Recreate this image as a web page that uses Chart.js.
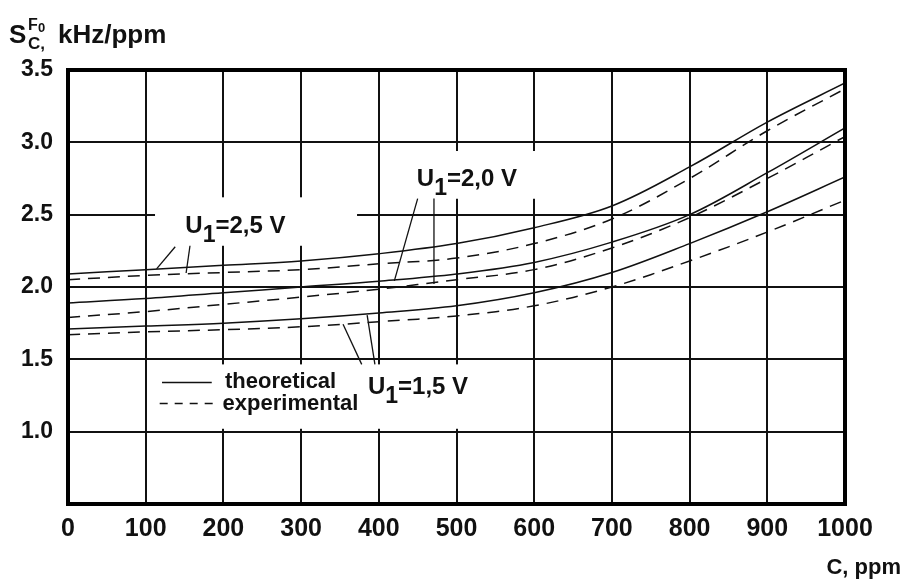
<!DOCTYPE html>
<html>
<head>
<meta charset="utf-8">
<script src="https://cdn.jsdelivr.net/npm/chart.js@4.4.1/dist/chart.umd.min.js"></script>
<style>
  body { margin: 0; background: #fff; }
  #wrap { width: 906px; height: 581px; position: relative; }
</style>
</head>
<body>
<div id="wrap"><canvas id="myChart"></canvas></div>
<script>
// concentration C, ppm
const concentration = [0, 100, 200, 300, 400, 500, 600, 700, 800, 900, 1000];

// sensitivity, kHz/ppm
const theory25 = [2.09, 2.12, 2.15, 2.18, 2.23, 2.30, 2.41, 2.56, 2.83, 3.14, 3.41];
const exper25  = [2.05, 2.08, 2.10, 2.12, 2.16, 2.20, 2.30, 2.47, 2.75, 3.08, 3.37];
const theory20 = [1.89, 1.92, 1.96, 2.00, 2.04, 2.09, 2.17, 2.31, 2.50, 2.79, 3.10];
const exper20  = [1.79, 1.83, 1.88, 1.93, 1.985, 2.05, 2.12, 2.27, 2.48, 2.75, 3.04];
const theory15 = [1.71, 1.73, 1.75, 1.78, 1.82, 1.87, 1.96, 2.10, 2.30, 2.52, 2.76];
const exper15  = [1.67, 1.69, 1.705, 1.725, 1.76, 1.80, 1.87, 2.00, 2.18, 2.38, 2.60];

const xTicks = [0, 100, 200, 300, 400, 500, 600, 700, 800, 900, 1000];
const yTicks = [1.0, 1.5, 2.0, 2.5, 3.0, 3.5];

const FONT = "'Liberation Sans', Arial, sans-serif";

function toPoints(ys) {
  return concentration.map((c, i) => ({ x: c, y: ys[i] }));
}

function lineSet(label, ys, dashed) {
  return {
    label: label,
    data: toPoints(ys),
    borderColor: "#111",
    borderWidth: 1.5,
    borderDash: dashed ? [12, 8] : [],
    pointRadius: 0,
    fill: false,
    tension: 0.35,
  };
}

// annotation layout in data units (ppm, kHz/ppm)
const whiteBoxes = [
  [112, 372, 2.62, 2.285],   // U1=2,5 V
  [427, 614, 2.94, 2.61],    // U1=2,0 V
  [108, 556, 1.465, 1.02],   // legend + U1=1,5 V
];
const leaders = [
  [138, 2.278, 114, 2.125],
  [157, 2.285, 152, 2.097],
  [450, 2.611, 420, 2.042],
  [471, 2.611, 471, 2.021],
  [378, 1.465, 354, 1.743],
  [395, 1.465, 385, 1.806],
];
const voltLabels = [
  ["2,5", 151, 2.375],
  ["2,0", 449, 2.70],
  ["1,5", 386, 1.257],
];

const annotations = {
  id: "annotations",
  beforeDatasetsDraw(chart) {
    const { ctx, scales } = chart;
    const xs = scales.x, ys = scales.y;
    ctx.save();
    ctx.fillStyle = "#fff";
    whiteBoxes.forEach(([x0, x1, y0, y1]) => {
      const px0 = xs.getPixelForValue(x0), px1 = xs.getPixelForValue(x1);
      const py0 = ys.getPixelForValue(y0), py1 = ys.getPixelForValue(y1);
      ctx.fillRect(px0, py0, px1 - px0, py1 - py0);
    });
    ctx.restore();
  },
  afterDraw(chart) {
    const { ctx, scales, chartArea } = chart;
    const xs = scales.x, ys = scales.y;
    ctx.save();

    // frame
    ctx.strokeStyle = "#000";
    ctx.lineWidth = 4;
    ctx.strokeRect(chartArea.left, chartArea.top,
      chartArea.right - chartArea.left, chartArea.bottom - chartArea.top);

    // leader lines
    ctx.lineWidth = 1.3;
    ctx.strokeStyle = "#111";
    leaders.forEach(([x0, y0, x1, y1]) => {
      ctx.beginPath();
      ctx.moveTo(xs.getPixelForValue(x0), ys.getPixelForValue(y0));
      ctx.lineTo(xs.getPixelForValue(x1), ys.getPixelForValue(y1));
      ctx.stroke();
    });

    // U1 labels
    ctx.fillStyle = "#111";
    ctx.textBaseline = "alphabetic";
    ctx.textAlign = "left";
    voltLabels.forEach(([v, cx, cy]) => {
      let px = xs.getPixelForValue(cx);
      const py = ys.getPixelForValue(cy);
      ctx.font = "bold 24px " + FONT;
      ctx.fillText("U", px, py);
      px += ctx.measureText("U").width;
      ctx.font = "bold 23px " + FONT;
      ctx.fillText("1", px, py + 9);
      px += ctx.measureText("1").width;
      ctx.font = "bold 24px " + FONT;
      ctx.fillText("=" + v + " V", px, py);
    });

    // legend
    ctx.lineWidth = 1.5;
    ctx.beginPath();
    ctx.moveTo(xs.getPixelForValue(121), ys.getPixelForValue(1.34));
    ctx.lineTo(xs.getPixelForValue(185), ys.getPixelForValue(1.34));
    ctx.stroke();
    ctx.setLineDash([8, 7]);
    ctx.beginPath();
    ctx.moveTo(xs.getPixelForValue(118), ys.getPixelForValue(1.194));
    ctx.lineTo(xs.getPixelForValue(192), ys.getPixelForValue(1.194));
    ctx.stroke();
    ctx.setLineDash([]);
    ctx.font = "bold 22px " + FONT;
    ctx.fillText("theoretical", xs.getPixelForValue(202), ys.getPixelForValue(1.299));
    ctx.fillText("experimental", xs.getPixelForValue(199), ys.getPixelForValue(1.153));

    // y axis title  S_C^F0, kHz/ppm
    ctx.font = "bold 26px " + FONT;
    ctx.fillText("S", 9, 43);
    ctx.font = "bold 16px " + FONT;
    ctx.fillText("F", 28, 30);
    ctx.font = "bold 13px " + FONT;
    ctx.fillText("0", 38, 32);
    ctx.font = "bold 17px " + FONT;
    ctx.fillText("C,", 28, 49);
    ctx.font = "bold 26px " + FONT;
    ctx.fillText("kHz/ppm", 58, 43);

    // x axis title
    ctx.font = "bold 22px " + FONT;
    ctx.textAlign = "right";
    ctx.fillText("C, ppm", 901, 574);

    ctx.restore();
  },
};

const ctx = document.getElementById("myChart").getContext("2d");

new Chart(ctx, {
  type: "line",
  data: {
    datasets: [
      lineSet("U1=2,5 V theoretical", theory25, false),
      lineSet("U1=2,5 V experimental", exper25, true),
      lineSet("U1=2,0 V theoretical", theory20, false),
      lineSet("U1=2,0 V experimental", exper20, true),
      lineSet("U1=1,5 V theoretical", theory15, false),
      lineSet("U1=1,5 V experimental", exper15, true),
    ],
  },
  options: {
    responsive: true,
    maintainAspectRatio: false,
    animation: false,
    layout: { padding: { left: 0, right: 61, top: 70, bottom: 0 } },
    plugins: {
      legend: { display: false },
      tooltip: { enabled: false },
    },
    scales: {
      x: {
        type: "linear",
        min: 0,
        max: 1000,
        afterBuildTicks: (scale) => {
          scale.ticks = xTicks.map((v) => ({ value: v }));
        },
        afterFit: (scale) => { scale.height = 77; },
        grid: { color: "#111", lineWidth: 2, drawTicks: false },
        border: { display: true, color: "#000", width: 4 },
        ticks: {
          color: "#111",
          padding: 10,
          maxRotation: 0,
          font: { family: FONT, size: 25, weight: "bold" },
          callback: (value) => String(value),
        },
      },
      y: {
        min: 0.5,
        max: 3.5,
        afterBuildTicks: (scale) => {
          scale.ticks = [0.5].concat(yTicks).map((v) => ({ value: v }));
        },
        afterFit: (scale) => { scale.width = 68; },
        grid: { color: "#111", lineWidth: 2, drawTicks: false },
        border: { display: true, color: "#000", width: 4 },
        ticks: {
          color: "#111",
          padding: 15,
          font: { family: FONT, size: 23, weight: "bold" },
          callback: (value) => (value === 0.5 ? "" : value.toFixed(1)),
        },
      },
    },
  },
  plugins: [annotations],
});
</script>
</body>
</html>
